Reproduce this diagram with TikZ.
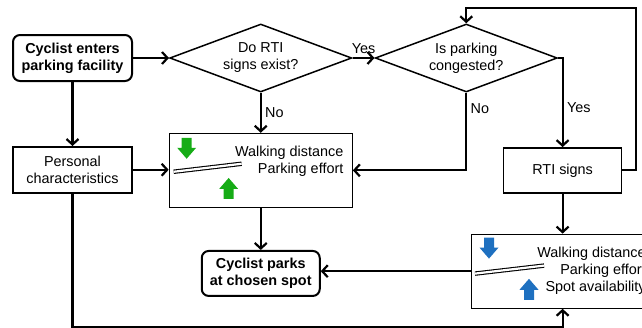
\documentclass[tikz,border=0pt]{standalone}
\usepackage{fontspec}
\setmainfont{Liberation Sans}
\usetikzlibrary{arrows.meta,shapes.geometric,positioning}
\definecolor{arrgreen}{RGB}{22,172,22}
\definecolor{arrblue}{RGB}{30,112,192}

\begin{document}
\begin{tikzpicture}[x=1pt,y=-1pt,>={Straight Barb[length=5.5pt,width=12pt]},
  every node/.style={font=\fontsize{14.4}{17}\selectfont},
  term/.style={draw,rounded corners=7pt,line width=2pt,align=center,minimum width=119pt,minimum height=46pt,font=\fontsize{14.4}{17}\selectfont\bfseries},
  box/.style={draw,line width=1.5pt,align=center,minimum width=119pt,minimum height=46pt},
  decision/.style={diamond,draw,line width=1.5pt,aspect=2.7,minimum width=182pt,minimum height=68pt,inner sep=0pt,align=center},
  lever/.style={draw,line width=1.2pt,minimum width=183pt,minimum height=74pt},
  flow/.style={->,line width=2.2pt},
  bar/.style={draw,double=white,double distance=2.2pt,line width=1.1pt},
  downarr/.pic={\fill (-5,0) -- (5,0) -- (5,10) -- (9.5,10) -- (0,21) -- (-9.5,10) -- (-5,10) -- cycle;}]
\useasboundingbox (0,0) rectangle (642,327);

\node[term]   (enter)     at (72.5,58)  {Cyclist enters\\parking facility};
\node[decision] (rtiq)    [right=36pt of enter] {Do RTI\\signs exist?};
\node[decision] (congq)   [right=22pt of rtiq]  {Is parking\\congested?};
\node[box]    (personal)  [below=64pt of enter] {Personal\\characteristics};
\node[lever]  (effort)    [below=40pt of rtiq]  {};
\node[box,minimum width=118pt,minimum height=45pt] (rti) [right=150pt of effort] {RTI signs};
\node[term,minimum width=118pt,minimum height=45pt] (park) [below=42pt of effort] {Cyclist parks\\at chosen spot};
\node[lever,minimum width=182pt] (effortrti) [below=40pt of rti] {};

% contents of the two boxes
\node[anchor=east,align=right] (efftext) at ([shift={(-6,-9)}]effort.east) {Walking distance\\Parking effort};
\pic[arrgreen] at ([shift={(18,5)}]effort.north west) {downarr};
\pic[arrgreen,rotate=180] at ([shift={(60,-9)}]effort.south west) {downarr};
\path[bar] ([shift={(5,39)}]effort.north west) -- ([shift={(73,31)}]effort.north west);

\node[anchor=east,align=right] (rtitext) at ([xshift=-5pt]effortrti.east) {Walking distance\\Parking effort\\Spot availability};
\pic[arrblue] at ([shift={(18,4)}]effortrti.north west) {downarr};
\pic[arrblue,rotate=180] at ([shift={(58,-9)}]effortrti.south west) {downarr};
\path[bar] ([shift={(4,40)}]effortrti.north west) -- ([shift={(73,32)}]effortrti.north west);

% connectors
\draw[flow] (enter) -- (rtiq);
\draw[flow] (rtiq) -- node[above] {Yes} (congq);
\draw[flow] (rtiq) -- node[right] {No} (effort);
\draw[flow] (congq.south) |- node[pos=0.1,right] {No} (effort.east);
\draw[flow] (congq.east) -| node[pos=0.78,right] {Yes} (rti.north);
\draw[flow] (rti.east) -- ++(14,0) |- ([yshift=15pt]congq.north) -- (congq.north);
\draw[flow] (enter) -- (personal);
\draw[flow] (personal.east) -- (personal.east -| effort.west);
\draw[flow] (effort) -- (park);
\draw[flow] (rti) -- (effortrti);
\draw[flow] (effortrti.west) -- (effortrti.west -| park.east);
\draw[flow] (personal.south) -- ++(0,134) -| (effortrti.south);
\end{tikzpicture}
\end{document}
